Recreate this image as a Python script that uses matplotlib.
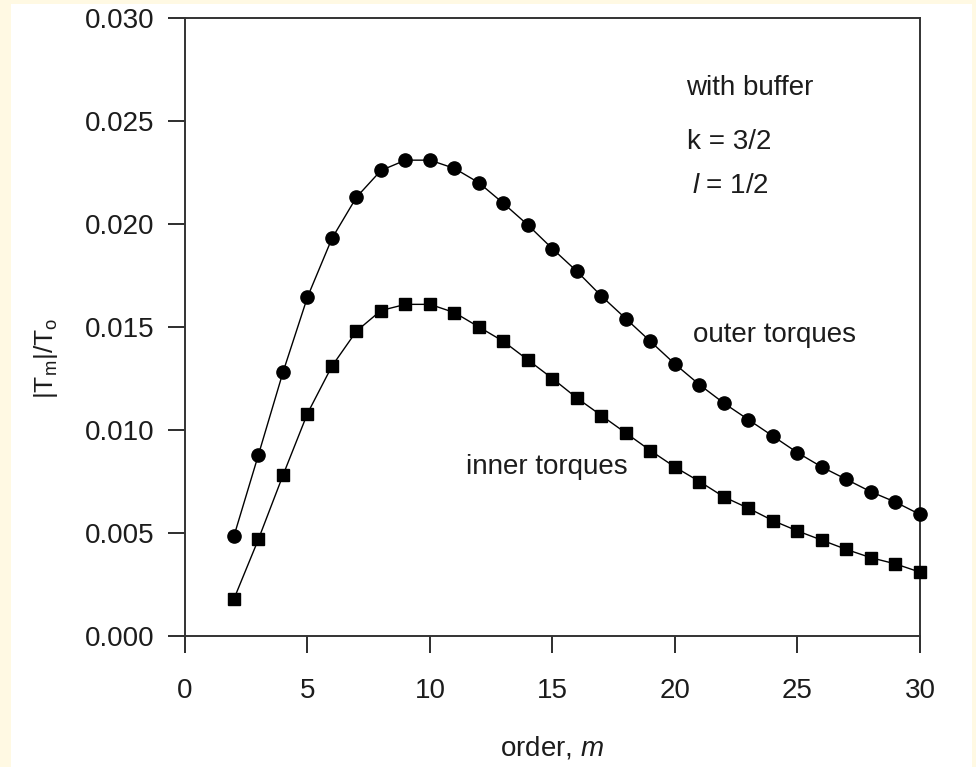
import matplotlib
matplotlib.use('Agg')
import matplotlib.pyplot as plt
from matplotlib.patches import Rectangle

plt.rcParams['font.family'] = ['Liberation Sans', 'DejaVu Sans']
plt.rcParams['mathtext.fontset'] = 'custom'
plt.rcParams['mathtext.rm'] = 'Liberation Sans'
plt.rcParams['mathtext.it'] = 'Liberation Sans:italic'

# order m
order = list(range(2, 31))
# |T_m|/T_o, outer torques (circles)
outer = [0.00485, 0.0088, 0.0128, 0.01645, 0.0193, 0.0213, 0.0226, 0.0231, 0.0231,
         0.0227, 0.0220, 0.0210, 0.01995, 0.0188, 0.0177, 0.0165, 0.0154, 0.0143,
         0.0132, 0.0122, 0.0113, 0.0105, 0.0097, 0.0089, 0.0082, 0.0076, 0.0070,
         0.0065, 0.0059]
# inner torques (squares)
inner = [0.0018, 0.0047, 0.0078, 0.0108, 0.0131, 0.0148, 0.0158, 0.0161, 0.0161,
         0.0157, 0.0150, 0.0143, 0.0134, 0.0125, 0.01155, 0.0107, 0.00985, 0.0090,
         0.0082, 0.0075, 0.00675, 0.0062, 0.0056, 0.0051, 0.00465, 0.0042, 0.0038,
         0.0035, 0.0031]

txt = '#1c1c1c'
fs = 20

fig = plt.figure(figsize=(9.76, 7.67), dpi=100, facecolor='#fff9e3')
# white page area
fig.patches.append(Rectangle((11 / 976, 0), 961 / 976, 763 / 767, transform=fig.transFigure,
                             facecolor='white', edgecolor='none', zorder=-10))
ax = fig.add_axes([0.1895, 0.1708, 0.7531, 0.8057])
ax.set_facecolor('white')

ax.plot(order, outer, '-o', color='black', lw=1.0, ms=9.5, clip_on=False, zorder=3)
ax.plot(order, inner, '-s', color='black', lw=1.0, ms=9, clip_on=False, zorder=3)

ax.set_xlim(0, 30)
ax.set_ylim(0, 0.030)
ax.set_xticks(range(0, 31, 5))
ax.set_yticks([0.0, 0.005, 0.010, 0.015, 0.020, 0.025, 0.030])
ax.set_yticklabels(['0.000', '0.005', '0.010', '0.015', '0.020', '0.025', '0.030'])
ax.tick_params(direction='out', length=12, width=1.3, labelsize=fs, colors=txt)
ax.tick_params(axis='x', pad=18)
ax.tick_params(axis='y', pad=10)
for s in ax.spines.values():
    s.set_linewidth(1.4)
    s.set_color('#333333')

ax.set_xlabel('order, $\\it{m}$', fontsize=fs, color=txt)
ax.xaxis.set_label_coords(0.5, -0.160)
ax.set_ylabel('|T$_\\mathregular{m}$|/T$_\\mathregular{o}$', fontsize=19, color=txt)
ax.yaxis.set_label_coords(-0.170, 0.45)

ax.text(20.45, 0.0266, 'with buffer', fontsize=fs, color=txt, va='center')
ax.text(20.5, 0.0240, 'k = 3/2', fontsize=fs, color=txt, va='center')
ax.text(20.7, 0.02185, '$\\it{l}$ = 1/2', fontsize=fs, color=txt, va='center')
ax.text(20.73, 0.0146, 'outer torques', fontsize=fs, color=txt, va='center')
ax.text(11.47, 0.0082, 'inner torques', fontsize=fs, color=txt, va='center')

fig.savefig('out.png', dpi=100, facecolor=fig.get_facecolor())
